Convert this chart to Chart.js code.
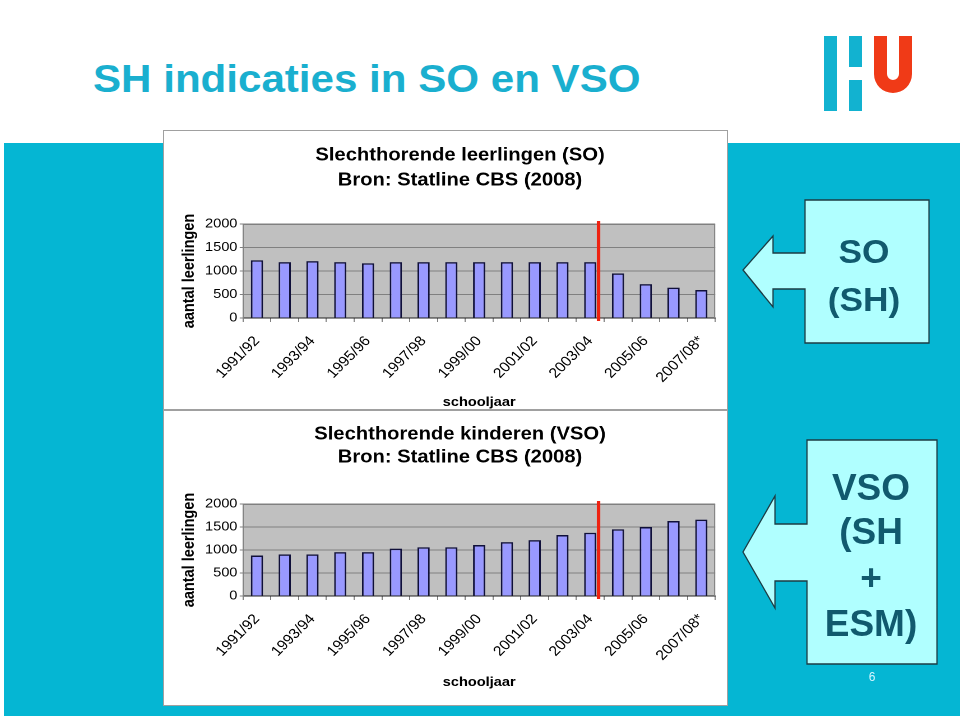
<!DOCTYPE html>
<html>
<head>
<meta charset="utf-8">
<script src="https://cdn.jsdelivr.net/npm/chart.js@4/dist/chart.umd.min.js"></script>
<style>
  html, body { margin: 0; padding: 0; }
  body { width: 960px; height: 716px; position: relative; overflow: hidden; background: #ffffff; font-family: "Liberation Sans", Arial, sans-serif; }
  #teal { position: absolute; left: 4px; top: 143px; width: 956px; height: 573px; background: #05B6D3; }
  #title { position: absolute; left: 93px; top: 60px; font-size: 38px; line-height: 38px; font-weight: bold; color: #1AAFCF; white-space: nowrap; transform: scaleX(1.108); transform-origin: 0 0; }
  .panel { position: absolute; left: 163px; width: 563px; background: #ffffff; border: 1px solid #a0a0a0; }
  #p1 { top: 130px; height: 278px; }
  #p2 { top: 410px; height: 294px; }
  canvas { position: absolute; }
  #deco { position: absolute; left: 0; top: 0; }
</style>
</head>
<body>
<div id="teal"></div>
<div id="title">SH indicaties in SO en VSO</div>
<div class="panel" id="p1"></div>
<div class="panel" id="p2"></div>
<canvas id="c1" width="504" height="280" style="left:163px;top:130px;width:565px;height:280px;"></canvas>
<canvas id="c2" width="504" height="296" style="left:163px;top:410px;width:565px;height:296px;"></canvas>
<svg id="deco" width="960" height="716" xmlns="http://www.w3.org/2000/svg">
  <!-- logo -->
  <rect x="824" y="36" width="13" height="75" fill="#12B2D0"/>
  <rect x="849" y="36" width="13" height="31" fill="#12B2D0"/>
  <rect x="849" y="80" width="13" height="31" fill="#12B2D0"/>
  <path d="M874,36 V74 A19,19 0 0 0 912,74 V36 H899 V74 A6,6 0 0 1 887,74 V36 Z" fill="#F03A17"/>
  <!-- SO box -->
  <polygon points="805,200 929,200 929,343 805,343 805,289 773,289 773,307 743,270 773,236 773,253 805,253" fill="#B0FFFF" stroke="#1d3c44" stroke-width="1.3"/>
  <g transform="translate(864,0) scale(1.07,1) translate(-864,0)" font-family="Liberation Sans, Arial, sans-serif" font-weight="bold" font-size="33" fill="#115A6E">
    <text x="864" y="263" text-anchor="middle">SO</text>
    <text x="864" y="311" text-anchor="middle">(SH)</text>
  </g>
  <!-- VSO box -->
  <polygon points="807,440 937,440 937,664 807,664 807,581 775,581 775,608 743,552 775,496 775,524 807,524" fill="#B0FFFF" stroke="#1d3c44" stroke-width="1.3"/>
  <g font-family="Liberation Sans, Arial, sans-serif" font-weight="bold" font-size="37" fill="#115A6E">
    <text x="871" y="500" text-anchor="middle">VSO</text>
    <text x="871" y="544" text-anchor="middle">(SH</text>
    <text x="871" y="590" text-anchor="middle">+</text>
    <text x="871" y="636" text-anchor="middle">ESM)</text>
  </g>
  <text x="872" y="681" text-anchor="middle" font-family="Liberation Sans, Arial, sans-serif" font-size="12" fill="#D6F6FF">6</text>
</svg>
<script>
// ---- data ----
const schoolYears = ["1991/92","1992/93","1993/94","1994/95","1995/96","1996/97","1997/98","1998/99","1999/00","2000/01","2001/02","2002/03","2003/04","2004/05","2005/06","2006/07","2007/08*"];
const soValues  = [1230, 1190, 1210, 1190, 1165, 1190, 1190, 1190, 1190, 1190, 1190, 1190, 1190, 950, 720, 645, 595];
const vsoValues = [880, 905, 905, 955, 955, 1030, 1060, 1060, 1110, 1170, 1215, 1325, 1375, 1450, 1500, 1630, 1660];
const yTicks = [0, 500, 1000, 1500, 2000];
const soTitle  = ["Slechthorende leerlingen (SO)", "Bron: Statline CBS (2008)"];
const vsoTitle = ["Slechthorende kinderen (VSO)", "Bron: Statline CBS (2008)"];
const yTitle = "aantal leerlingen";
const xTitle = "schooljaar";
const markerAfter = "2003/04";   // red marker drawn right after this school year

Chart.defaults.font.family = "'Liberation Sans', Arial, sans-serif";
Chart.defaults.color = "#000000";

const plotPlugin = {
  id: 'plotDeco',
  beforeDraw(chart) {
    const a = chart.chartArea, ctx = chart.ctx;
    ctx.save();
    ctx.fillStyle = '#C0C0C0';
    ctx.fillRect(a.left, a.top, a.right - a.left, a.bottom - a.top);
    ctx.restore();
  },
  afterDatasetsDraw(chart) {
    const a = chart.chartArea, ctx = chart.ctx;
    ctx.save();
    ctx.strokeStyle = '#808080';
    ctx.lineWidth = 1;
    ctx.beginPath();
    ctx.moveTo(a.left, a.top + 0.5); ctx.lineTo(a.right - 0.5, a.top + 0.5); ctx.lineTo(a.right - 0.5, a.bottom);
    ctx.stroke();
    const xs = chart.scales.x;
    const idx = schoolYears.indexOf(markerAfter);
    const x = xs.getPixelForValue(idx + 0.3);
    ctx.strokeStyle = '#EE2211';
    ctx.lineWidth = 3.1;
    ctx.beginPath();
    ctx.moveTo(x, a.top - 3); ctx.lineTo(x, a.bottom + 3);
    ctx.stroke();
    ctx.restore();
  }
};

const PAD_LEFT = 36.6;   // shifts the centred title right while keeping the plot in place
const Y_WIDTH = 71.4 - PAD_LEFT;

function makeChart(id, titleLines, values, g) {
  return new Chart(document.getElementById(id), {
    type: 'bar',
    data: {
      labels: schoolYears,
      datasets: [{
        data: values,
        backgroundColor: '#9999FF',
        borderColor: '#10103A',
        borderWidth: 1.5,
        barPercentage: 0.44,
        categoryPercentage: 1.0
      }]
    },
    options: {
      responsive: false,
      animation: false,
      devicePixelRatio: 2,
      layout: { padding: { left: PAD_LEFT, right: 10.7, top: 0, bottom: 0 } },
      plugins: {
        legend: { display: false },
        tooltip: { enabled: false },
        title: {
          display: true,
          text: titleLines,
          color: '#000000',
          font: { size: 18, weight: 'bold', lineHeight: g.titleLH + 'px' },
          padding: { top: g.titleTop, bottom: g.titleBottom }
        }
      },
      scales: {
        x: {
          afterFit: s => { s.height = g.xHeight; },
          grid: { offset: true, drawOnChartArea: false, drawTicks: true, tickLength: 4, color: '#808080' },
          border: { display: true, color: '#202020', width: 1 },
          ticks: {
            autoSkip: false, maxRotation: 48, minRotation: 48, padding: 11,
            font: { size: 14 }, color: '#000000',
            callback: (v, i) => (i % 2 === 0 ? schoolYears[i] : '')
          },
          title: { display: true, text: xTitle, font: { size: 13, weight: 'bold' }, padding: { top: 0, bottom: g.xTitleBottom } }
        },
        y: {
          min: 0, max: 2000,
          afterFit: s => { s.width = Y_WIDTH; },
          afterBuildTicks: s => { s.ticks = yTicks.map(v => ({ value: v })); },
          grid: { color: '#808080', tickLength: 3, drawTicks: true },
          border: { display: true, color: '#808080' },
          ticks: { padding: 2, font: { size: 13 }, color: '#000000', callback: v => String(v) },
          title: { display: true, text: yTitle, font: { size: 14.5, weight: 'bold' }, padding: { top: 15 - PAD_LEFT, bottom: 0 } }
        }
      }
    },
    plugins: [plotPlugin]
  });
}

makeChart('c1', soTitle, soValues, { titleLH: 25, titleTop: 13, titleBottom: 31, xHeight: 92, xTitleBottom: 0 });
makeChart('c2', vsoTitle, vsoValues, { titleLH: 23, titleTop: 13, titleBottom: 35, xHeight: 110, xTitleBottom: 16 });
</script>
</body>
</html>
